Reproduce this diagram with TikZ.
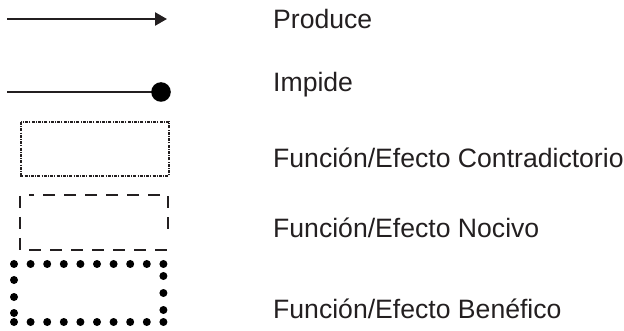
\documentclass[tikz,border=0pt]{standalone}
\usepackage{fontspec}
\setmainfont{Liberation Sans}
\usetikzlibrary{arrows.meta}
\definecolor{ink}{HTML}{231F20}
\begin{document}
\begin{tikzpicture}[x=1pt,y=-1pt,
  lbl/.style={anchor=base west,inner sep=0pt,font=\fontsize{26.6}{30}\selectfont,text=ink},
  produce/.style={draw=ink,line width=2.4pt,-{Triangle[length=12pt,width=13pt]}},
  impide/.style={draw=ink,line width=2.4pt},
  contrbox/.style={draw=ink,line width=1.5pt,dash pattern=on 3pt off 1.2pt on 1pt off 1.2pt},
  nocbox/.style={draw=ink,line width=1.1pt,dash pattern=on 12pt off 9pt},
  dotmark/.style={fill=black}]
\useasboundingbox (0,0) rectangle (624,331);
% Produce
\coordinate (pa) at (7,19);
\coordinate (pb) at (167,19);
\draw[produce] (pa) -- (pb);
% Impide
\coordinate (ia) at (7,92);
\coordinate (ib) at (161,92);
\draw[impide] (ia) -- (ib);
\fill[black] (ib) circle (9.8);
% Contradictorio box
\draw[contrbox] (21,122) rectangle (169,176);
% Nocivo box
\draw[nocbox] (168,229) -- (168,195) -- (29,195);
\draw[nocbox] (20,196) -- (20,250) -- (168,250);
% Beneficial dotted box
\foreach \i in {0,...,9} {
  \fill[dotmark] ({14+16.6*\i},264) circle (4);
  \fill[dotmark] ({14+16.6*\i},322) circle (4);
}
\foreach \yy in {280,297,313} {\fill[dotmark] (14,\yy) circle (4);}
\foreach \yy in {276,293,310} {\fill[dotmark] (163.4,\yy) circle (4);}
% labels
\node[lbl] (t1) at (273,29) {Produce};
\node[lbl] (t2) at (273,92) {Impide};
\node[lbl] (t3) at (273,168) {Función/Efecto Contradictorio};
\node[lbl] (t4) at (273,238) {Función/Efecto Nocivo};
\node[lbl] (t5) at (273,318) {Función/Efecto Benéfico};
\end{tikzpicture}
\end{document}
